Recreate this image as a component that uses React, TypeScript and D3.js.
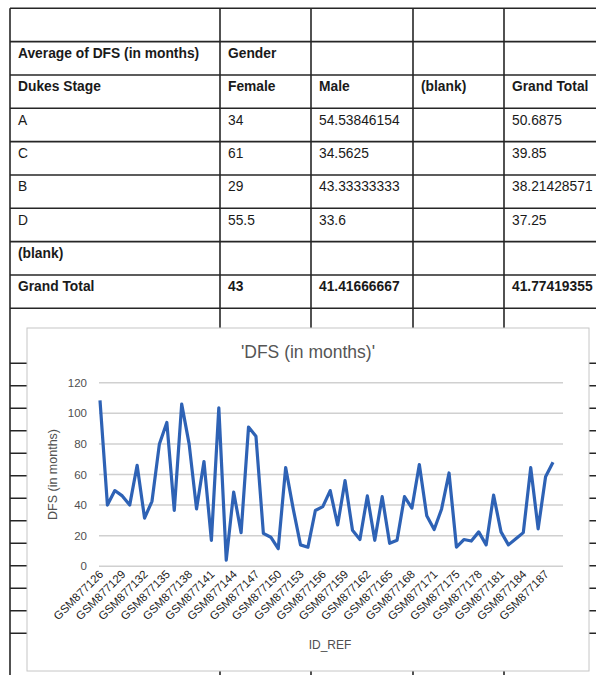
import React from "react";
import * as d3 from "d3";

// ---------- Pivot table data ----------
const tableHeader1 = ["Average of DFS (in months)", "Gender", "", "", ""];
const tableHeader2 = ["Dukes Stage", "Female", "Male", "(blank)", "Grand Total"];
const stages = ["A", "C", "B", "D", "(blank)"];
const femaleAvg = ["34", "61", "29", "55.5", ""];
const maleAvg = ["54.53846154", "34.5625", "43.33333333", "33.6", ""];
const blankAvg = ["", "", "", "", ""];
const totalAvg = ["50.6875", "39.85", "38.21428571", "37.25", ""];
const grandTotalRow = ["Grand Total", "43", "41.41666667", "", "41.77419355"];

// ---------- Chart data ----------
const chartTitle = "'DFS (in months)'";
const yTicks = [0, 20, 40, 60, 80, 100, 120];
const idNumbers = [
  126, 127, 128, 129, 130, 131, 132, 133, 134, 135, 136, 137, 138, 139, 140, 141,
  142, 143, 144, 145, 146, 147, 148, 149, 150, 151, 152, 153, 154, 155, 156, 157,
  158, 159, 160, 161, 162, 163, 164, 165, 166, 167, 168, 169, 170, 171, 173, 174,
  175, 176, 177, 178, 179, 180, 181, 182, 183, 184, 185, 186, 187, 188,
];
const ids = idNumbers.map((n) => "GSM877" + n);
const dfs = [
  108.5, 40, 49.5, 46, 40, 66, 31.5, 42.5, 80, 94, 36.5, 106, 80, 37.5, 68.5, 17,
  103.5, 4, 48.5, 22, 91, 85, 21.5, 19, 11.5, 64.5, 38, 14, 12.5, 36.5, 39, 49.5,
  27, 56, 23.5, 17.5, 46, 17, 45.5, 15, 17, 45.5, 38, 66.5, 33, 24, 37.5, 61,
  12.5, 17.5, 16.5, 22.5, 14, 46.5, 22.5, 14, 18, 22, 64.5, 24.5, 58.5, 68,
];
const labelEvery = 3;

export default function App() {
  const W = 596;
  const H = 675;

  // spreadsheet grid
  const colX = [10, 220, 311, 413, 504, 700];
  const rowTop = d3.range(10).map((i) => 8.3 + i * 33.33);
  const lowerRows = d3.range(13).map((i) => 363.3 + i * 22.5);

  // chart box
  const box = { x: 27, y: 328, w: 562, h: 343 };

  const x = d3.scalePoint<string>().domain(ids).range([100, 553]);
  const y = d3.scaleLinear().domain([0, 120]).range([566.3, 382.7]);
  const line = d3
    .line<number>()
    .x((_, i) => x(ids[i]) as number)
    .y((d) => y(d));

  const font = "'Liberation Sans', Arial, sans-serif";

  const rows: string[][] = [
    ["", "", "", "", ""],
    tableHeader1,
    tableHeader2,
    ...stages.map((s, i) => [s, femaleAvg[i], maleAvg[i], blankAvg[i], totalAvg[i]]),
    grandTotalRow,
  ];
  const boldRows = new Set([1, 2, 8]);

  return (
    <svg
      width={W}
      height={H}
      style={{ position: "absolute", left: 0, top: 0, background: "#fff" }}
      fontFamily={font}
    >
      <rect x={0} y={0} width={W} height={H} fill="#fff" />
      {/* grid horizontal lines */}
      {rowTop.map((r, i) => (
        <line key={"h" + i} x1={10} x2={W} y1={r} y2={r} stroke="#262626" strokeWidth={1.6} />
      ))}
      {lowerRows.map((r, i) => (
        <line key={"lh" + i} x1={10} x2={W} y1={r} y2={r} stroke="#262626" strokeWidth={1.6} />
      ))}
      {/* grid vertical lines */}
      {colX.slice(0, 5).map((c, i) => (
        <line key={"v" + i} x1={c} x2={c} y1={8.3} y2={H} stroke="#262626" strokeWidth={1.6} />
      ))}
      {/* table text */}
      {rows.map((row, ri) =>
        row.map((cell, ci) =>
          cell ? (
            <text
              key={`t${ri}-${ci}`}
              x={colX[ci] + 8}
              y={rowTop[ri] + 16.5}
              fontSize={13.8}
              fontWeight={boldRows.has(ri) || (ri === 7 && ci === 0) ? 700 : 400}
              fill="#1a1a1a"
            >
              {cell}
            </text>
          ) : null
        )
      )}

      {/* chart */}
      <rect x={box.x} y={box.y} width={box.w} height={box.h} fill="#fff" stroke="#c6c6c6" strokeWidth={1} />
      <text x={308} y={358} textAnchor="middle" fontSize={17.5} fill="#555">
        {chartTitle}
      </text>
      {yTicks.map((t) => (
        <g key={"y" + t}>
          <line x1={99} x2={563} y1={y(t)} y2={y(t)} stroke="#d0d0d0" strokeWidth={1.5} />
          <text x={87} y={y(t) + 4} textAnchor="end" fontSize={11.5} fill="#505050">
            {t}
          </text>
        </g>
      ))}
      <text
        transform={`translate(57, ${y(60)}) rotate(-90)`}
        textAnchor="middle"
        fontSize={12.5}
        fill="#505050"
      >
        DFS (in months)
      </text>
      <path d={line(dfs) || ""} fill="none" stroke="#2E62B5" strokeWidth={3.2} strokeLinejoin="round" />
      {ids.map((id, i) =>
        i % labelEvery === 0 ? (
          <text
            key={id}
            transform={`translate(${(x(id) as number) + 4}, ${575}) rotate(-45)`}
            textAnchor="end"
            fontSize={11.5}
            fill="#222"
          >
            {id}
          </text>
        ) : null
      )}
      <text x={330} y={649} textAnchor="middle" fontSize={12} fill="#505050">
        ID_REF
      </text>
    </svg>
  );
}
